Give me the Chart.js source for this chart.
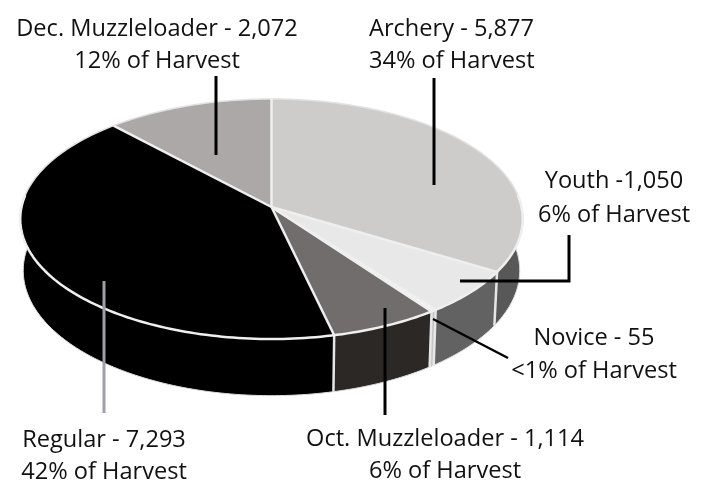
<!DOCTYPE html>
<html lang="en">
<head>
    <meta charset="UTF-8">
    <title>Harvest by Season</title>
    <script src="https://cdn.jsdelivr.net/npm/chart.js"></script>
    <style>
        html, body { margin: 0; padding: 0; background: #fff; overflow: hidden; }
        canvas { display: block; }
    </style>
</head>
<body>
    <canvas id="grafico" width="710" height="483"></canvas>
    <script>
        // Values
        const seasons = ['Archery', 'Youth', 'Novice', 'Oct. Muzzleloader', 'Regular', 'Dec. Muzzleloader'];
        const harvest = [5877, 1050, 55, 1114, 7293, 2072];
        const faceColors = ['#cdcccb', '#e8e8e8', '#f4f4f4', '#716d6c', '#000000', '#aca8a8'];
        const wallColors = ['#585858', '#626262', '#c4c4c4', '#2b2826', '#000000', '#777777'];
        const labelLines = [
            ['Archery - 5,877', '34% of Harvest'],
            ['Youth -1,050', '6% of Harvest'],
            ['Novice - 55', '<1% of Harvest'],
            ['Oct. Muzzleloader - 1,114', '6% of Harvest'],
            ['Regular - 7,293', '42% of Harvest'],
            ['Dec. Muzzleloader - 2,072', '12% of Harvest']
        ];

        // Where the flattened disc sits on the page
        const disc = { cx: 271.5, cy: 207, rx: 250, ry: 118.8, tilt: 0.1, depth: 51, inset: 0.988 };

        function project(angle, r, drop) {
            const u = r * Math.cos(angle);
            const v = r * Math.sin(angle);
            const w = 1 - disc.tilt * v;
            return {
                x: disc.cx + disc.rx * u / w * (drop ? disc.inset : 1),
                y: disc.cy + (disc.ry * v + (drop ? disc.depth : 0)) / w
            };
        }

        function edgePoints(a0, a1, drop) {
            const pts = [];
            const n = Math.max(2, Math.ceil((a1 - a0) / 0.02));
            for (let i = 0; i <= n; i++) {
                pts.push(project(a0 + (a1 - a0) * i / n, 1, drop));
            }
            return pts;
        }

        function tracePoints(ctx, pts) {
            pts.forEach((p, i) => i ? ctx.lineTo(p.x, p.y) : ctx.moveTo(p.x, p.y));
        }

        function drawLine(ctx, pts, color, width) {
            ctx.beginPath();
            tracePoints(ctx, pts);
            ctx.strokeStyle = color;
            ctx.lineWidth = width;
            ctx.stroke();
        }

        // Draws the library's arcs as a thick tilted disc
        const disco3d = {
            id: 'disco3d',
            beforeDatasetDraw() {
                return false;
            },
            afterDatasetsDraw(chart) {
                const ctx = chart.ctx;
                const arcs = chart.getDatasetMeta(0).data;
                ctx.save();
                ctx.lineJoin = 'round';

                // side walls
                arcs.forEach((arc, i) => {
                    const top = edgePoints(arc.startAngle, arc.endAngle, false);
                    const bottom = edgePoints(arc.startAngle, arc.endAngle, true).reverse();
                    ctx.beginPath();
                    tracePoints(ctx, top.concat(bottom));
                    ctx.closePath();
                    ctx.fillStyle = wallColors[i];
                    ctx.fill();
                });
                drawLine(ctx, edgePoints(-0.15, Math.PI + 0.15, true), '#dddddd', 1);
                arcs.forEach(arc => {
                    const s = Math.sin(arc.startAngle);
                    if (s > 0) {
                        drawLine(ctx, [project(arc.startAngle, 1, false), project(arc.startAngle, 1, true)], '#e6e6e6', 2.5);
                    }
                });

                // top face
                arcs.forEach((arc, i) => {
                    const pts = [project(0, 0, false)].concat(edgePoints(arc.startAngle, arc.endAngle, false));
                    ctx.beginPath();
                    tracePoints(ctx, pts);
                    ctx.closePath();
                    ctx.fillStyle = faceColors[i];
                    ctx.fill();
                });
                drawLine(ctx, edgePoints(Math.PI, Math.PI * 2, false), '#e2e2e2', 1.5);
                drawLine(ctx, edgePoints(-0.1, Math.PI + 0.1, false), '#efefef', 2.5);
                arcs.forEach(arc => {
                    drawLine(ctx, [project(0, 0, false), project(arc.startAngle, 1, false)], '#efefef', 2.5);
                });
                ctx.restore();
            }
        };

        // Leader lines and the two-line labels
        const rotulos = {
            id: 'rotulos',
            afterDraw(chart) {
                const ctx = chart.ctx;
                ctx.save();
                ctx.lineCap = 'butt';
                ctx.lineJoin = 'miter';
                drawLine(ctx, [{ x: 216, y: 76 }, { x: 216, y: 155 }], '#000', 3);
                drawLine(ctx, [{ x: 434, y: 78 }, { x: 434, y: 185 }], '#000', 3);
                drawLine(ctx, [{ x: 460, y: 281 }, { x: 569, y: 281 }, { x: 569, y: 235 }], '#000', 3);
                drawLine(ctx, [{ x: 433, y: 319 }, { x: 508, y: 358 }], '#000', 2.5);
                drawLine(ctx, [{ x: 385, y: 308 }, { x: 385, y: 415 }], '#000', 3);
                drawLine(ctx, [{ x: 104, y: 281 }, { x: 104, y: 413 }], '#a0a0a4', 3);

                ctx.font = '23.6px "Open Sans"';
                ctx.fillStyle = '#111';
                const spots = [
                    { x: 369, y: 36, gap: 32, align: 'left' },
                    { x: 614, y: 188, gap: 34, align: 'center' },
                    { x: 594, y: 345, gap: 33, align: 'center' },
                    { x: 445, y: 446, gap: 32, align: 'center' },
                    { x: 104, y: 447, gap: 32, align: 'center' },
                    { x: 157, y: 36, gap: 32, align: 'center' }
                ];
                labelLines.forEach((lines, i) => {
                    ctx.textAlign = spots[i].align;
                    lines.forEach((line, j) => {
                        ctx.fillText(line, spots[i].x, spots[i].y + j * spots[i].gap);
                    });
                });
                ctx.restore();
            }
        };

        new Chart(document.getElementById('grafico'), {
            type: 'pie',
            data: {
                labels: seasons,
                datasets: [{ data: harvest, backgroundColor: faceColors }]
            },
            options: {
                responsive: false,
                animation: false,
                plugins: { legend: { display: false }, tooltip: { enabled: false } }
            },
            plugins: [disco3d, rotulos]
        });
    </script>
</body>
</html>
